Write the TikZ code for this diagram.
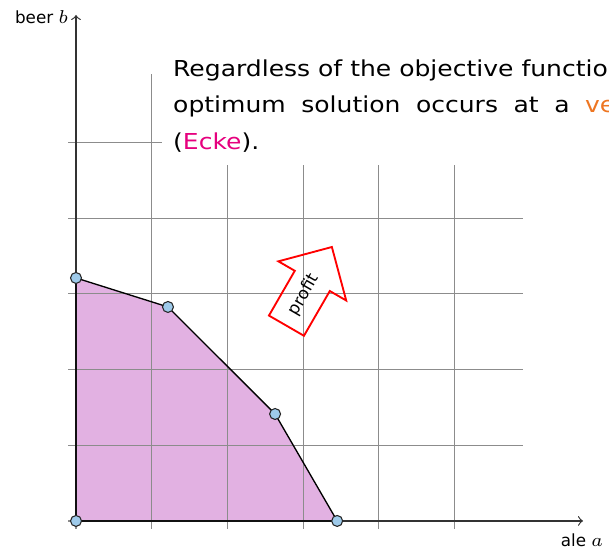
\documentclass[tikz,border=0pt]{standalone}
\usepackage{fontspec}
\setmainfont{DejaVu Sans}
\newfontfamily\bodyfont{DejaVu Sans}[FakeStretch=1.14]
\usetikzlibrary{shapes.arrows}
\definecolor{regionfill}{RGB}{226,177,226}
\definecolor{vtxfill}{RGB}{158,202,234}
\definecolor{vorange}{RGB}{238,118,34}
\definecolor{emagenta}{RGB}{230,0,126}
\newcommand\axvar[1]{{\fontsize{7}{8}\selectfont\(#1\)}}
\begin{document}
\begin{tikzpicture}[
  gridline/.style={draw=black!45, line width=0.45pt},
  axisline/.style={draw=black!80, line width=0.45pt, ->},
  boundary/.style={draw=black, line width=0.5pt, line join=round},
  vtx/.style={circle, draw=black!85, fill=vtxfill, line width=0.4pt, inner sep=0pt, minimum size=0.145cm},
  axislabel/.style={font=\fontsize{6.3}{8}\selectfont, inner sep=0pt},
  textline/.style={font=\bodyfont\fontsize{8.25}{13.9}\selectfont, inner sep=0pt, anchor=base west},
  profitarrow/.style={single arrow, draw=red, line width=0.7pt, font=\fontsize{6.3}{7}\selectfont,
    minimum height=1.2cm, inner ysep=4.2pt, inner xsep=1pt, single arrow head extend=0.25cm}
]
\useasboundingbox (-1.004,-0.357) rectangle (7.041,6.882);
% feasible region corners
\coordinate (p0) at (0,0);
\coordinate (p1) at (0,3.21);
\coordinate (p2) at (1.215,2.827);
\coordinate (p3) at (2.63,1.413);
\coordinate (p4) at (3.45,0);
\fill[regionfill] (p0) -- (p1) -- (p2) -- (p3) -- (p4) -- cycle;
% grid
\draw[gridline] (-0.1,-0.1) grid (5.9,5.9);
% axes
\coordinate (ytip) at (0,6.684);
\coordinate (xtip) at (6.698,0);
\draw[axisline] (p0) -- (ytip);
\draw[axisline] (p0) -- (xtip);
\node[axislabel, anchor=base east] (ylab) at (-0.1,6.575) {beer \axvar{b}};
\node[axislabel, anchor=base] (xlab) at (6.684,-0.333) {ale \axvar{a}};
% boundary
\draw[boundary] (p0) -- (p1) -- (p2) -- (p3) -- (p4) -- cycle;
\node[vtx] (v0) at (p0) {};
\node[vtx] (v1) at (p1) {};
\node[vtx] (v2) at (p2) {};
\node[vtx] (v3) at (p3) {};
\node[vtx] (v4) at (p4) {};
% profit arrow
\node[profitarrow, rotate=60, anchor=tail] (profit) at (2.774,2.569) {profit};
% text box
\fill[white] (1.13,4.70) rectangle (7.3,6.5);
\node[textline] (l1) at (1.277,5.869) {Regardless of the objective function, the};
\node[textline] (l2) at (1.277,5.390) {\makebox[6.50cm][l]{optimum\hfill solution\hfill occurs\hfill at\hfill a\hfill \textcolor{vorange}{vertex}}};
\node[textline] (l3) at (1.277,4.901) {(\textcolor{emagenta}{Ecke}).};
\end{tikzpicture}
\end{document}
